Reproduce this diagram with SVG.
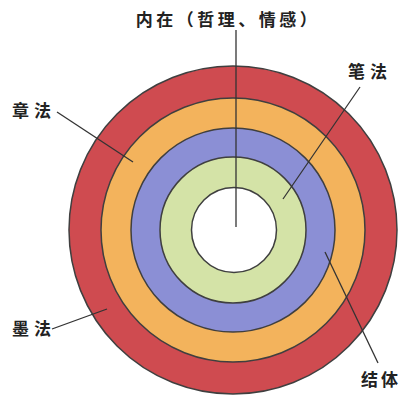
<svg xmlns="http://www.w3.org/2000/svg" width="403" height="395" viewBox="0 0 403 395">
<style>
.ring{stroke:#3f3f3f;stroke-width:1.5}
.lbl{font-family:"Noto Sans CJK SC","Liberation Sans",sans-serif;font-size:17px;font-weight:bold;fill:#222;letter-spacing:5px}
.top{letter-spacing:3.5px}
.ln{stroke:#333;stroke-width:1.3;fill:none}
</style>
<rect width="403" height="395" fill="#ffffff"/>
<g id="ring-mofa"><circle class="ring" cx="233" cy="230" r="164" fill="#cf4b50"/></g>
<g id="ring-zhangfa"><circle class="ring" cx="233" cy="230" r="132" fill="#f3b35c"/></g>
<g id="ring-jieti"><circle class="ring" cx="233" cy="230" r="102" fill="#8b8fd5"/></g>
<g id="ring-bifa"><circle class="ring" cx="233" cy="230" r="73" fill="#d4e3a7"/></g>
<g id="core"><circle class="ring" cx="234" cy="230" r="42.5" fill="#ffffff"/></g>
<g id="connectors">
<line class="ln" x1="236" y1="30" x2="236" y2="227"/>
<line class="ln" x1="57" y1="112" x2="133" y2="162"/>
<line class="ln" x1="52" y1="329" x2="107" y2="309"/>
<line class="ln" x1="360" y1="87" x2="283" y2="199"/>
<line class="ln" x1="325" y1="252" x2="378" y2="363"/>
</g>
<g id="label-top"><text class="lbl top" x="228" y="26" text-anchor="middle">内在（哲理、情感）</text></g>
<g id="label-zhangfa"><text class="lbl" x="12" y="117">章法</text></g>
<g id="label-mofa"><text class="lbl" x="12" y="335">墨法</text></g>
<g id="label-bifa"><text class="lbl" x="348" y="78">笔法</text></g>
<g id="label-jieti"><text class="lbl" x="361" y="386" style="letter-spacing:3px">结体</text></g>
</svg>
